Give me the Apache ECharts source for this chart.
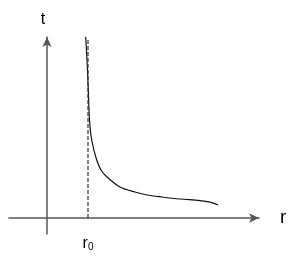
<!DOCTYPE html>
<html>
<head>
<meta charset="utf-8">
<script src="https://cdn.jsdelivr.net/npm/echarts@6/dist/echarts.min.js"></script>
<style>html,body{margin:0;padding:0;background:#fff}#c{width:300px;height:258px}</style>
</head>
<body>
<div id="c"></div>
<script>
const curveR = [3.87, 4.0, 4.13, 4.25, 4.47, 4.97, 5.4, 6.0, 7.3, 8.8, 10.0, 11.5, 13.3, 15.3, 16.3, 17.1];
const curveT = [18.1, 15.8, 12.8, 9.8, 7.8, 5.8, 4.8, 4.1, 3.1, 2.6, 2.3, 2.1, 1.9, 1.74, 1.58, 1.3];
// asymptote position r0 and its height
const r0 = 4.1;
const asymptoteTop = 17.8;
// axis ranges
const rRange = [-3.8, 21.2];
const tRange = [-1.6, 18.1];
// labels
const xName = 'r';
const yName = 't';
const r0Label = ['r', '0'];

const curveData = curveR.map((r, i) => [r, curveT[i]]);

const chart = echarts.init(document.getElementById('c'));
chart.setOption({
  animation: false,
  backgroundColor: '#fff',
  grid: { left: 9, right: 41, top: 37, bottom: 24, containLabel: false, outerBoundsMode: 'none' },
  xAxis: {
    type: 'value', min: rRange[0], max: rRange[1],
    splitLine: { show: false },
    axisTick: { show: false },
    axisLine: { onZero: true, lineStyle: { color: '#555', width: 1.5 }, symbol: ['none', 'arrow'], symbolSize: [7, 10] },
    axisLabel: {
      customValues: [r0], margin: 1,
      formatter: () => '{a|' + r0Label[0] + '}{b|' + r0Label[1] + '}',
      rich: {
        a: { fontFamily: 'Liberation Sans', fontSize: 16, color: '#000', verticalAlign: 'bottom', lineHeight: 17 },
        b: { fontFamily: 'Liberation Sans', fontSize: 10, color: '#000', verticalAlign: 'bottom', lineHeight: 17 }
      }
    },
    name: xName, nameLocation: 'end', nameGap: 21,
    nameTextStyle: { fontFamily: 'Liberation Sans', fontSize: 19, color: '#000', verticalAlign: 'middle', padding: [4, 0, 0, 0] }
  },
  yAxis: {
    type: 'value', min: tRange[0], max: tRange[1],
    splitLine: { show: false },
    axisTick: { show: false },
    axisLabel: { show: false },
    axisLine: { onZero: true, lineStyle: { color: '#555', width: 1.5 }, symbol: ['none', 'arrow'], symbolSize: [7, 10] },
    name: yName, nameLocation: 'end', nameGap: 9,
    nameTextStyle: { fontFamily: 'Liberation Sans', fontSize: 16, color: '#000', align: 'center', padding: [0, 8, 0, 0] }
  },
  series: [
    {
      type: 'line', data: curveData, smooth: 0.3, showSymbol: false,
      lineStyle: { color: '#111', width: 1.2 }
    },
    {
      type: 'line', data: [[r0, 0], [r0, asymptoteTop]], showSymbol: false,
      lineStyle: { color: '#333', width: 1.2, type: [4, 2] }
    }
  ]
});
</script>
</body>
</html>
